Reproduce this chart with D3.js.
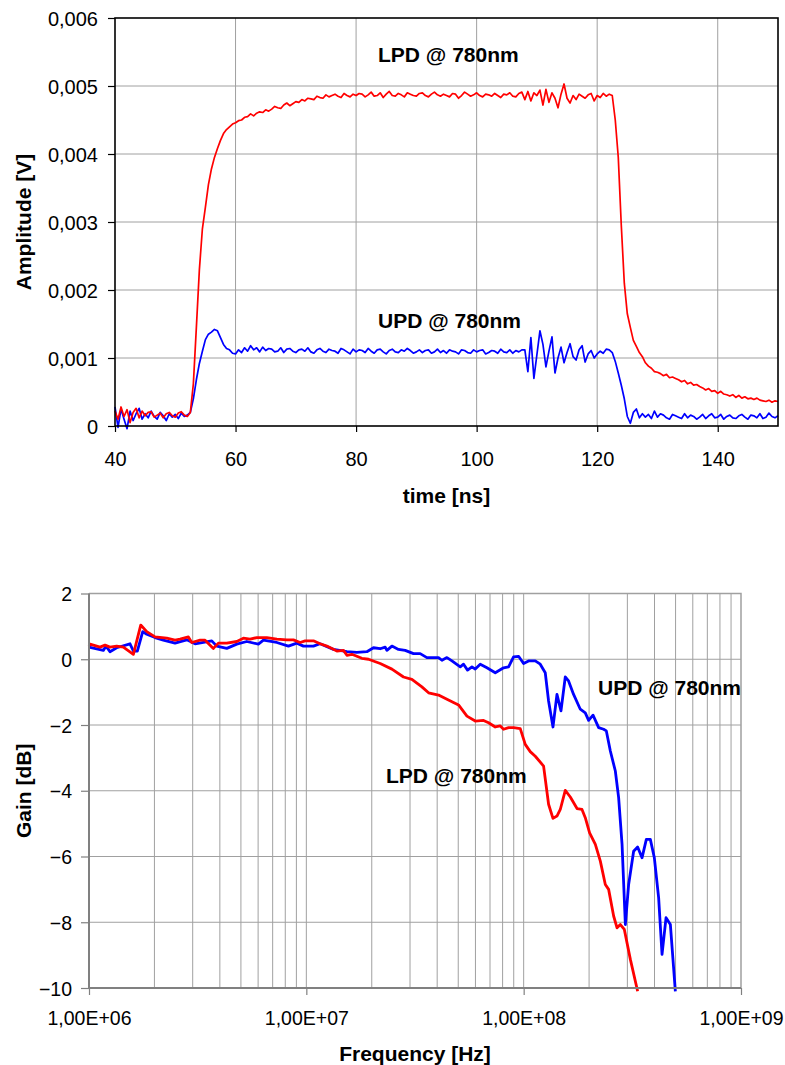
<!DOCTYPE html>
<html>
<head>
<meta charset="utf-8">
<script src="https://cdn.jsdelivr.net/npm/d3@7"></script>
<style>
	body { margin: 0; background: #fff; }
	svg text { font-family: "Liberation Sans", Arial, sans-serif; fill: #000; }
</style>
</head>
<body>
<script>

/* Data */

// pulse response, time in ns, amplitude in mV
var timeNs = [
	40, 40.5, 41, 41.5, 42, 42.5, 43, 43.5, 44, 44.5,
	45, 45.5, 46, 46.5, 47, 47.5, 48, 48.5, 49, 49.5,
	50, 50.5, 51, 51.5, 52, 52.5, 53, 53.5, 54, 54.5,
	55, 55.5, 56, 56.5, 57, 57.5, 58, 58.5, 59, 59.5,
	60, 60.5, 61, 61.5, 62, 62.5, 63, 63.5, 64, 64.5,
	65, 65.5, 66, 66.5, 67, 67.5, 68, 68.5, 69, 69.5,
	70, 70.5, 71, 71.5, 72, 72.5, 73, 73.5, 74, 74.5,
	75, 75.5, 76, 76.5, 77, 77.5, 78, 78.5, 79, 79.5,
	80, 80.5, 81, 81.5, 82, 82.5, 83, 83.5, 84, 84.5,
	85, 85.5, 86, 86.5, 87, 87.5, 88, 88.5, 89, 89.5,
	90, 90.5, 91, 91.5, 92, 92.5, 93, 93.5, 94, 94.5,
	95, 95.5, 96, 96.5, 97, 97.5, 98, 98.5, 99, 99.5,
	100, 100.5, 101, 101.5, 102, 102.5, 103, 103.5, 104, 104.5,
	105, 105.5, 106, 106.5, 107, 107.5, 108, 108.5, 109, 109.5,
	110, 110.5, 111, 111.5, 112, 112.5, 113, 113.5, 114, 114.5,
	115, 115.5, 116, 116.5, 117, 117.5, 118, 118.5, 119, 119.5,
	120, 120.5, 121, 121.5, 122, 122.5, 123, 123.5, 124, 124.5,
	125, 125.5, 126, 126.5, 127, 127.5, 128, 128.5, 129, 129.5,
	130, 130.5, 131, 131.5, 132, 132.5, 133, 133.5, 134, 134.5,
	135, 135.5, 136, 136.5, 137, 137.5, 138, 138.5, 139, 139.5,
	140, 140.5, 141, 141.5, 142, 142.5, 143, 143.5, 144, 144.5,
	145, 145.5, 146, 146.5, 147, 147.5, 148, 148.5, 149, 149.5,
	150
];

var lpdPulse = [
	0.22, 0.10, 0.28, 0.14, 0.24, 0.05, 0.20, 0.26, 0.12, 0.22,
	0.15, 0.20, 0.21, 0.13, 0.16, 0.19, 0.12, 0.18, 0.20, 0.15,
	0.13, 0.19, 0.21, 0.16, 0.14, 0.20, 0.62, 1.45, 2.30, 2.90,
	3.22, 3.55, 3.78, 3.95, 4.08, 4.20, 4.30, 4.36, 4.40, 4.44,
	4.46, 4.49, 4.50, 4.54, 4.55, 4.59, 4.56, 4.60, 4.62, 4.61,
	4.65, 4.63, 4.66, 4.70, 4.68, 4.67, 4.72, 4.75, 4.71, 4.74,
	4.77, 4.76, 4.80, 4.78, 4.82, 4.81, 4.80, 4.85, 4.83, 4.82,
	4.87, 4.84, 4.86, 4.88, 4.85, 4.83, 4.89, 4.86, 4.84, 4.88,
	4.86, 4.89, 4.88, 4.84, 4.87, 4.91, 4.85, 4.86, 4.90, 4.83,
	4.88, 4.92, 4.86, 4.85, 4.89, 4.87, 4.84, 4.90, 4.88, 4.86,
	4.85, 4.89, 4.90, 4.86, 4.84, 4.88, 4.91, 4.87, 4.85, 4.88,
	4.86, 4.84, 4.89, 4.88, 4.82, 4.86, 4.91, 4.88, 4.85, 4.87,
	4.90, 4.86, 4.84, 4.88, 4.87, 4.85, 4.89, 4.86, 4.83, 4.88,
	4.87, 4.90, 4.85, 4.84, 4.89, 4.91, 4.80, 4.92, 4.78, 4.90,
	4.86, 4.94, 4.72, 4.95, 4.76, 4.90, 4.82, 4.68, 4.88, 5.03,
	4.82, 4.75, 4.86, 4.80, 4.88, 4.85, 4.82, 4.87, 4.89, 4.78,
	4.86, 4.83, 4.89, 4.85, 4.88, 4.86, 4.50, 3.95, 2.95, 2.10,
	1.65, 1.45, 1.26, 1.17, 1.08, 1.02, 0.93, 0.88, 0.85, 0.80,
	0.79, 0.77, 0.74, 0.76, 0.71, 0.72, 0.70, 0.68, 0.65, 0.67,
	0.62, 0.64, 0.60, 0.61, 0.58, 0.56, 0.53, 0.55, 0.51, 0.52,
	0.48, 0.51, 0.47, 0.46, 0.44, 0.46, 0.42, 0.45, 0.41, 0.43,
	0.40, 0.41, 0.39, 0.41, 0.38, 0.37, 0.36, 0.38, 0.35, 0.37,
	0.36
];

var updPulse = [
	0.28, -0.02, 0.25, 0.10, -0.04, 0.22, 0.08, 0.18, 0.26, 0.10,
	0.18, 0.12, 0.22, 0.14, 0.10, 0.20, 0.15, 0.08, 0.18, 0.13,
	0.17, 0.11, 0.19, 0.14, 0.16, 0.20, 0.40, 0.68, 0.92, 1.10,
	1.27, 1.35, 1.38, 1.42, 1.40, 1.30, 1.20, 1.14, 1.12, 1.07,
	1.06, 1.12, 1.08, 1.15, 1.10, 1.18, 1.12, 1.15, 1.09, 1.16,
	1.11, 1.14, 1.13, 1.09, 1.10, 1.15, 1.08, 1.13, 1.14, 1.10,
	1.08, 1.12, 1.13, 1.10, 1.15, 1.09, 1.07, 1.12, 1.14, 1.10,
	1.08, 1.13, 1.11, 1.10, 1.07, 1.14, 1.12, 1.09, 1.06, 1.13,
	1.09, 1.12, 1.11, 1.08, 1.14, 1.10, 1.07, 1.12, 1.13, 1.09,
	1.06, 1.11, 1.13, 1.09, 1.08, 1.12, 1.10, 1.14, 1.11, 1.07,
	1.09, 1.12, 1.08, 1.11, 1.12, 1.07, 1.09, 1.13, 1.08, 1.11,
	1.07, 1.12, 1.10, 1.09, 1.06, 1.12, 1.11, 1.08, 1.07, 1.12,
	1.09, 1.11, 1.12, 1.06, 1.08, 1.11, 1.10, 1.07, 1.13, 1.09,
	1.08, 1.12, 1.07, 1.11, 1.09, 1.12, 1.12, 0.80, 1.30, 0.70,
	1.05, 1.40, 1.20, 0.87, 1.10, 1.31, 0.78, 1.00, 1.16, 0.93,
	1.08, 1.21, 1.02, 0.97, 1.12, 1.18, 0.94, 1.06, 1.11, 1.00,
	1.06, 1.10, 1.07, 1.13, 1.12, 1.08, 0.95, 0.78, 0.60, 0.40,
	0.14, 0.04, 0.20, 0.25, 0.12, 0.18, 0.13, 0.17, 0.11, 0.22,
	0.13, 0.18, 0.16, 0.12, 0.10, 0.17, 0.15, 0.13, 0.11, 0.18,
	0.12, 0.16, 0.14, 0.10, 0.13, 0.17, 0.11, 0.15, 0.18, 0.12,
	0.13, 0.17, 0.10, 0.14, 0.16, 0.12, 0.11, 0.15, 0.17, 0.13,
	0.10, 0.16, 0.15, 0.12, 0.18, 0.11, 0.13, 0.19, 0.14, 0.12,
	0.15
];

var pulseXTicks = [40, 60, 80, 100, 120, 140];
var pulseYTicks = [0, 0.001, 0.002, 0.003, 0.004, 0.005, 0.006];
var pulseYLabels = ["0", "0,001", "0,002", "0,003", "0,004", "0,005", "0,006"];

// frequency response, Hz / dB
var updFreq = [
	1.000e6, 1.164e6, 1.198e6, 1.249e6, 1.341e6, 1.544e6, 1.600e6, 1.669e6, 1.767e6, 1.844e6,
	2.013e6, 2.198e6, 2.488e6, 2.818e6, 3.076e6, 3.672e6, 3.871e6, 4.305e6, 4.786e6, 5.322e6,
	6.018e6, 6.346e6, 7.314e6, 8.272e6, 9.045e6, 9.697e6, 1.078e7, 1.157e7, 1.333e7, 1.537e7,
	1.708e7, 1.899e7, 2.037e7, 2.187e7, 2.306e7, 2.348e7, 2.476e7, 2.655e7, 2.850e7, 3.112e7,
	3.341e7, 3.587e7, 4.057e7, 4.206e7, 4.436e7, 4.677e7, 5.107e7, 5.289e7, 5.518e7, 5.781e7,
	5.987e7, 6.313e7, 6.776e7, 7.402e7, 8.083e7, 8.523e7, 8.986e7, 9.474e7, 9.990e7, 1.053e8,
	1.131e8, 1.192e8, 1.257e8, 1.302e8, 1.364e8, 1.423e8, 1.485e8, 1.554e8, 1.609e8, 1.697e8,
	1.822e8, 1.921e8, 1.990e8, 2.085e8, 2.213e8, 2.333e8, 2.401e8, 2.505e8, 2.641e8, 2.735e8,
	2.836e8, 2.937e8, 3.041e8, 3.206e8, 3.345e8, 3.504e8, 3.668e8, 3.827e8, 3.993e8, 4.179e8,
	4.332e8, 4.520e8, 4.732e8, 4.989e8
];
var updGain = [
	0.37, 0.27, 0.40, 0.23, 0.35, 0.47, 0.25, 0.25, 0.84, 0.76,
	0.66, 0.58, 0.49, 0.59, 0.47, 0.56, 0.40, 0.33, 0.46, 0.54,
	0.46, 0.58, 0.51, 0.40, 0.49, 0.40, 0.40, 0.47, 0.30, 0.23,
	0.21, 0.23, 0.35, 0.32, 0.37, 0.27, 0.40, 0.30, 0.27, 0.17,
	0.17, 0.05, 0.05, -0.03, 0.05, -0.05, -0.23, -0.15, -0.33, -0.23,
	-0.30, -0.15, -0.26, -0.41, -0.26, -0.23, 0.07, 0.09, -0.13, -0.05,
	-0.05, -0.15, -0.41, -1.27, -2.06, -1.07, -1.57, -0.54, -0.66, -1.07,
	-1.52, -1.63, -1.86, -1.70, -2.08, -2.13, -2.18, -2.79, -3.40, -4.21,
	-5.63, -8.07, -6.85, -5.84, -5.71, -6.04, -5.48, -5.48, -6.04, -7.26,
	-8.98, -7.86, -8.07, -10.1
];

var lpdFreq = [
	1.000e6, 1.011e6, 1.124e6, 1.185e6, 1.249e6, 1.341e6, 1.439e6, 1.600e6, 1.730e6, 1.844e6,
	2.013e6, 2.279e6, 2.488e6, 2.624e6, 2.866e6, 2.971e6, 3.244e6, 3.420e6, 3.735e6, 3.939e6,
	4.305e6, 4.786e6, 5.133e6, 5.512e6, 5.917e6, 6.579e6, 7.314e6, 8.132e6, 8.721e6, 9.365e6,
	9.874e6, 1.078e7, 1.157e7, 1.243e7, 1.382e7, 1.482e7, 1.537e7, 1.620e7, 1.801e7, 1.932e7,
	2.187e7, 2.476e7, 2.800e7, 3.060e7, 3.402e7, 3.650e7, 4.057e7, 4.436e7, 5.016e7, 5.483e7,
	5.987e7, 6.539e7, 6.894e7, 7.402e7, 7.804e7, 8.083e7, 8.523e7, 8.986e7, 9.646e7, 1.017e8,
	1.072e8, 1.131e8, 1.235e8, 1.302e8, 1.364e8, 1.423e8, 1.474e8, 1.554e8, 1.639e8, 1.760e8,
	1.855e8, 1.921e8, 2.011e8, 2.137e8, 2.253e8, 2.375e8, 2.460e8, 2.594e8, 2.689e8, 2.785e8,
	2.905e8, 3.097e8, 3.345e8
];
var lpdGain = [
	0.40, 0.46, 0.37, 0.43, 0.37, 0.40, 0.37, 0.15, 1.04, 0.84,
	0.68, 0.64, 0.58, 0.61, 0.68, 0.51, 0.58, 0.58, 0.33, 0.49,
	0.49, 0.54, 0.64, 0.61, 0.66, 0.66, 0.61, 0.59, 0.59, 0.51,
	0.56, 0.56, 0.47, 0.40, 0.25, 0.27, 0.12, 0.15, 0.03, 0.00,
	-0.13, -0.30, -0.54, -0.61, -0.84, -1.02, -1.09, -1.22, -1.39, -1.73,
	-1.88, -1.86, -1.93, -2.06, -2.03, -2.13, -2.08, -2.08, -2.11, -2.59,
	-2.81, -2.95, -3.25, -4.41, -4.84, -4.77, -4.57, -3.99, -4.19, -4.54,
	-4.57, -4.82, -5.28, -5.63, -6.14, -6.85, -7.00, -7.81, -8.17, -8.07,
	-8.22, -9.13, -10.1
];

var freqMajorTicks = [1e6, 1e7, 1e8, 1e9];
var freqLabels = ["1,00E+06", "1,00E+07", "1,00E+08", "1,00E+09"];
var gainTicks = [2, 0, -2, -4, -6, -8, -10];


/* Functions */

function zipSeries(xs, ys) {
	var out = [];
	for (let i = 0; i < xs.length; i++) {
		out.push({"x": xs[i], "y": ys[i]});
	}
	return out;
}


function drawPulseChart(g) {
	var left = 115, right = 778, top = 18, bottom = 426;

	var x = d3.scaleLinear().domain([40, 150]).range([left, right]);
	var y = d3.scaleLinear().domain([0, 0.006]).range([bottom, top]);

	// grid
	g.append("g").selectAll("line")
		.data(pulseXTicks.slice(1))
		.enter().append("line")
			.attr("x1", function(d) { return x(d); })
			.attr("x2", function(d) { return x(d); })
			.attr("y1", top).attr("y2", bottom)
			.attr("stroke", "#a0a0a0").attr("stroke-width", 1);

	g.append("g").selectAll("line")
		.data(pulseYTicks.slice(1, -1))
		.enter().append("line")
			.attr("x1", left).attr("x2", right)
			.attr("y1", function(d) { return y(d); })
			.attr("y2", function(d) { return y(d); })
			.attr("stroke", "#a0a0a0").attr("stroke-width", 1);

	var line = d3.line()
		.x(function(d) { return x(d.x); })
		.y(function(d) { return y(d.y / 1000); });

	g.append("path")
		.datum(zipSeries(timeNs, updPulse))
		.attr("d", line)
		.attr("fill", "none").attr("stroke", "#0000ff").attr("stroke-width", 1.7)
		.attr("stroke-linejoin", "round");

	g.append("path")
		.datum(zipSeries(timeNs, lpdPulse))
		.attr("d", line)
		.attr("fill", "none").attr("stroke", "#ff0000").attr("stroke-width", 1.7)
		.attr("stroke-linejoin", "round");

	// frame
	g.append("rect")
		.attr("x", left).attr("y", top)
		.attr("width", right - left).attr("height", bottom - top)
		.attr("fill", "none").attr("stroke", "#000").attr("stroke-width", 1.6);

	// axes
	var xAxis = d3.axisBottom(x).tickValues(pulseXTicks).tickSize(6).tickFormat(d3.format("d"));
	var yAxis = d3.axisLeft(y).tickValues(pulseYTicks).tickSize(7)
		.tickFormat(function(d, i) { return pulseYLabels[i]; });

	var gx = g.append("g").attr("transform", "translate(0," + bottom + ")").call(xAxis);
	var gy = g.append("g").attr("transform", "translate(" + left + ",0)").call(yAxis);
	for (let ax of [gx, gy]) {
		ax.select(".domain").remove();
		ax.selectAll(".tick line").attr("stroke", "#000").attr("stroke-width", 1.2);
		ax.selectAll(".tick text").attr("font-size", 20).attr("fill", "#000");
	}
	gx.selectAll(".tick text").attr("dy", null).attr("y", 40);
	gy.selectAll(".tick text").attr("x", -17).attr("dy", "0.38em");

	g.append("text")
		.attr("x", (left + right) / 2).attr("y", 503)
		.attr("text-anchor", "middle").attr("font-size", 21).attr("font-weight", "bold")
		.text("time [ns]");

	g.append("text")
		.attr("transform", "translate(31," + (top + bottom) / 2 + ") rotate(-90)")
		.attr("text-anchor", "middle").attr("font-size", 21).attr("font-weight", "bold")
		.text("Amplitude [V]");

	g.append("text")
		.attr("x", 378).attr("y", 62)
		.attr("font-size", 21).attr("font-weight", "bold")
		.text("LPD @ 780nm");

	g.append("text")
		.attr("x", 378).attr("y", 328)
		.attr("font-size", 21).attr("font-weight", "bold")
		.text("UPD @ 780nm");
}


function drawGainChart(g) {
	var left = 89, right = 741, top = 593.5, bottom = 988;

	var x = d3.scaleLog().domain([1e6, 1e9]).range([left, right]);
	var y = d3.scaleLinear().domain([-10, 2]).range([bottom, top]);

	// minor + major vertical grid
	var gridX = x.ticks().filter(function(d) { return d > 1e6 && d < 1e9; });

	g.append("g").selectAll("line")
		.data(gridX)
		.enter().append("line")
			.attr("x1", function(d) { return x(d); })
			.attr("x2", function(d) { return x(d); })
			.attr("y1", top).attr("y2", bottom)
			.attr("stroke", "#a0a0a0").attr("stroke-width", 1);

	g.append("g").selectAll("line")
		.data(gainTicks.slice(1, -1))
		.enter().append("line")
			.attr("x1", left).attr("x2", right)
			.attr("y1", function(d) { return y(d); })
			.attr("y2", function(d) { return y(d); })
			.attr("stroke", "#a0a0a0").attr("stroke-width", 1);

	// top and right border
	g.append("path")
		.attr("d", "M" + left + "," + top + "H" + right + "V" + bottom)
		.attr("fill", "none").attr("stroke", "#a0a0a0").attr("stroke-width", 1.5);

	var line = d3.line()
		.x(function(d) { return x(d.x); })
		.y(function(d) { return y(d.y); });

	g.append("path")
		.datum(zipSeries(updFreq, updGain))
		.attr("d", line)
		.attr("fill", "none").attr("stroke", "#0000ff").attr("stroke-width", 2.8)
		.attr("stroke-linejoin", "round");

	g.append("path")
		.datum(zipSeries(lpdFreq, lpdGain))
		.attr("d", line)
		.attr("fill", "none").attr("stroke", "#ff0000").attr("stroke-width", 2.8)
		.attr("stroke-linejoin", "round");

	var xAxis = d3.axisBottom(x).tickValues(freqMajorTicks).tickSize(7)
		.tickFormat(function(d, i) { return freqLabels[i]; });
	var yAxis = d3.axisLeft(y).tickValues(gainTicks).tickSize(8).tickFormat(d3.format("d"));

	var gx = g.append("g").attr("transform", "translate(0," + bottom + ")").call(xAxis);
	var gy = g.append("g").attr("transform", "translate(" + left + ",0)").call(yAxis);
	for (let ax of [gx, gy]) {
		ax.select(".domain").attr("stroke", "#808080").attr("stroke-width", 2);
		ax.selectAll(".tick line").attr("stroke", "#808080").attr("stroke-width", 1.2);
		ax.selectAll(".tick text").attr("font-size", 19.5).attr("fill", "#000");
	}
	gx.select(".domain").attr("d", "M" + left + ",0H" + right);
	gy.select(".domain").attr("d", "M0," + top + "V" + bottom);
	gx.selectAll(".tick text").attr("dy", null).attr("y", 37);
	gy.selectAll(".tick text").attr("x", -17).attr("dy", "0.36em");

	g.append("text")
		.attr("x", (left + right) / 2).attr("y", 1061)
		.attr("text-anchor", "middle").attr("font-size", 21).attr("font-weight", "bold")
		.text("Frequency [Hz]");

	g.append("text")
		.attr("transform", "translate(31," + (top + bottom) / 2 + ") rotate(-90)")
		.attr("text-anchor", "middle").attr("font-size", 21).attr("font-weight", "bold")
		.text("Gain [dB]");

	g.append("text")
		.attr("x", 598).attr("y", 695)
		.attr("font-size", 21).attr("font-weight", "bold")
		.text("UPD @ 780nm");

	g.append("text")
		.attr("x", 386).attr("y", 783)
		.attr("font-size", 21).attr("font-weight", "bold")
		.text("LPD @ 780nm");
}


/* Initialize canvas */

var width = 785;
var height = 1065;

var svg = d3.select("body").append("svg")
	.attr("width", width)
	.attr("height", height);

svg.append("rect").attr("width", width).attr("height", height).attr("fill", "#fff");

drawPulseChart(svg.append("g"));
drawGainChart(svg.append("g"));

</script>
</body>
</html>
